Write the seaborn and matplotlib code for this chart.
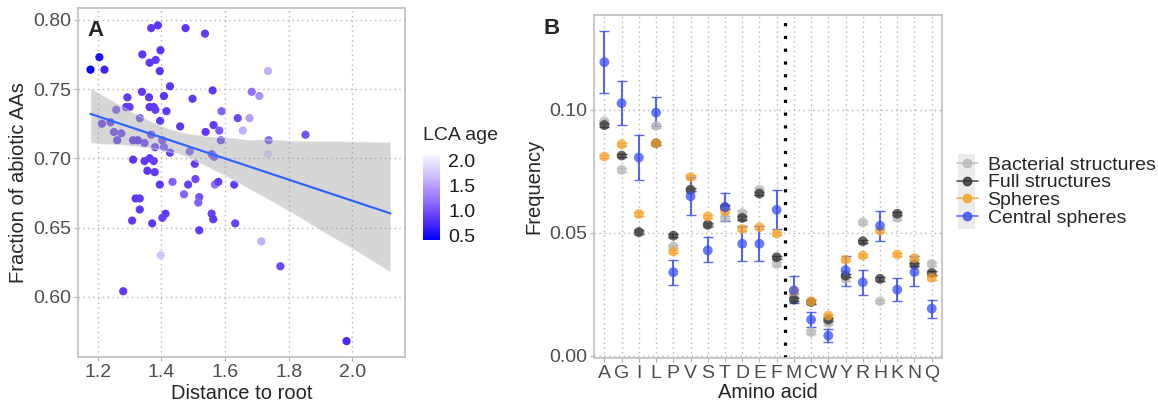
import numpy as np
import pandas as pd
import seaborn as sns
import matplotlib.pyplot as plt
from matplotlib.colors import LinearSegmentedColormap, Normalize
from matplotlib.cm import ScalarMappable
from matplotlib.lines import Line2D
from matplotlib.patches import Rectangle

# Panel A: distance to root vs fraction of abiotic AAs, colour = LCA age
distancia = [1.177, 1.205, 1.221, 1.368, 1.389, 1.476, 1.537, 1.340, 1.397, 1.363,
             1.382, 1.395, 1.735, 1.427, 1.339, 1.561, 1.293, 1.361, 1.408, 1.498,
             1.684, 1.708, 1.289, 1.300, 1.363, 1.376, 1.381, 1.416, 1.258, 1.589,
             1.332, 1.396, 1.213, 1.240, 1.459, 1.564, 1.640, 1.677, 1.656, 1.582,
             1.539, 1.251, 1.274, 1.261, 1.311, 1.326, 1.347, 1.368, 1.403, 1.408,
             1.380, 1.427, 1.587, 1.737, 1.853, 1.735, 1.489, 1.558, 1.566, 1.311,
             1.347, 1.363, 1.376, 1.505, 1.356, 1.379, 1.395, 1.435, 1.484, 1.507,
             1.568, 1.579, 1.629, 1.471, 1.519, 1.516, 1.319, 1.332, 1.332, 1.558,
             1.563, 1.413, 1.403, 1.308, 1.371, 1.632, 1.519, 1.714, 1.398, 1.774,
             1.280, 1.982]
fraccion = [0.764, 0.773, 0.764, 0.794, 0.796, 0.794, 0.790, 0.775, 0.778, 0.769,
            0.771, 0.763, 0.763, 0.752, 0.748, 0.749, 0.744, 0.744, 0.745, 0.743,
            0.748, 0.745, 0.737, 0.737, 0.737, 0.737, 0.735, 0.734, 0.735, 0.734,
            0.729, 0.727, 0.725, 0.726, 0.723, 0.724, 0.729, 0.729, 0.720, 0.720,
            0.719, 0.719, 0.718, 0.713, 0.713, 0.713, 0.711, 0.717, 0.713, 0.708,
            0.708, 0.704, 0.713, 0.713, 0.717, 0.703, 0.705, 0.703, 0.701, 0.699,
            0.698, 0.700, 0.698, 0.696, 0.691, 0.690, 0.681, 0.683, 0.681, 0.685,
            0.681, 0.683, 0.681, 0.674, 0.672, 0.668, 0.671, 0.671, 0.663, 0.660,
            0.656, 0.660, 0.657, 0.655, 0.653, 0.653, 0.648, 0.640, 0.630, 0.622,
            0.604, 0.568]
edad_lca = [0.42, 0.55, 0.70, 0.85, 0.83, 0.85, 0.87, 0.85, 0.83, 0.85,
            0.87, 0.83, 1.60, 0.85, 0.87, 0.85, 0.87, 0.85, 0.83, 0.87,
            1.20, 1.40, 0.85, 0.87, 0.85, 0.85, 0.90, 0.85, 1.10, 1.10,
            1.05, 0.87, 0.95, 1.00, 0.85, 0.87, 0.95, 1.50, 1.60, 1.05,
            0.85, 1.00, 1.00, 0.95, 0.87, 0.85, 1.00, 1.00, 1.05, 1.10,
            1.00, 0.90, 1.00, 1.10, 1.00, 1.85, 1.15, 1.05, 1.10, 0.85,
            0.87, 0.85, 0.90, 0.87, 0.85, 0.87, 0.85, 1.10, 0.90, 0.95,
            1.20, 0.90, 0.87, 1.10, 1.00, 1.10, 0.85, 0.87, 0.85, 0.90,
            0.85, 0.87, 0.90, 0.85, 0.85, 0.90, 0.85, 1.60, 1.75, 0.95,
            0.85, 0.75]

# Panel B: amino acid frequencies
aminoacidos = ['A', 'G', 'I', 'L', 'P', 'V', 'S', 'T', 'D', 'E',
               'F', 'M', 'C', 'W', 'Y', 'R', 'H', 'K', 'N', 'Q']
bacterianas = [0.0953, 0.0756, 0.0500, 0.0935, 0.0444, 0.0672, 0.0530, 0.0560, 0.0580, 0.0675,
               0.0373, 0.0245, 0.0095, 0.0133, 0.0312, 0.0542, 0.0221, 0.0560, 0.0385, 0.0373]
completas = [0.0938, 0.0814, 0.0503, 0.0864, 0.0488, 0.0675, 0.0533, 0.0604, 0.0560, 0.0659,
             0.0400, 0.0228, 0.0218, 0.0146, 0.0325, 0.0465, 0.0312, 0.0577, 0.0370, 0.0336]
esferas = [0.0810, 0.0860, 0.0576, 0.0864, 0.0424, 0.0726, 0.0566, 0.0587, 0.0515, 0.0522,
           0.0496, 0.0262, 0.0221, 0.0163, 0.0390, 0.0407, 0.0508, 0.0411, 0.0397, 0.0316]
centrales = [0.1194, 0.1027, 0.0806, 0.0989, 0.0339, 0.0648, 0.0428, 0.0604, 0.0455, 0.0455,
             0.0593, 0.0265, 0.0146, 0.0081, 0.0347, 0.0298, 0.0528, 0.0268, 0.0340, 0.0191]
centrales_inf = [0.1068, 0.0939, 0.0713, 0.0935, 0.0289, 0.0573, 0.0381, 0.0546, 0.0383, 0.0383,
                 0.0515, 0.0214, 0.0117, 0.0054, 0.0285, 0.0248, 0.0465, 0.0221, 0.0285, 0.0153]
centrales_sup = [0.1320, 0.1118, 0.0898, 0.1051, 0.0390, 0.0725, 0.0481, 0.0661, 0.0528, 0.0528,
                 0.0675, 0.0322, 0.0176, 0.0110, 0.0404, 0.0350, 0.0589, 0.0316, 0.0404, 0.0228]
error_pequeno = [0.0007] * 20

sns.set_style('white')
plt.rcParams['font.family'] = ['Liberation Sans', 'DejaVu Sans']

gris_txt = '#4D4D4D'
borde = '#C4C4C4'
rejilla = '#B5B5B5'

fig = plt.figure(figsize=(11.58, 4.03), dpi=100)
ax_a = fig.add_axes([0.0674, 0.1141, 0.2824, 0.866])
ax_cb = fig.add_axes([0.3653, 0.4045, 0.0147, 0.211])
ax_b = fig.add_axes([0.5130, 0.1117, 0.3005, 0.851])

# ---- Panel A ----
cmap = LinearSegmentedColormap.from_list(
    'lca', ['#0000FF', '#5E36FA', '#9A7DFF', '#CBBBFF', '#FAF8FF'])
norm = Normalize(0.41, 2.12)
df_a = pd.DataFrame({'dist': distancia, 'frac': fraccion, 'edad': edad_lca})

ax_a.grid(True, color=rejilla, linestyle=(0, (1, 2.5)), linewidth=1.0)
ax_a.set_axisbelow(True)
sns.scatterplot(data=df_a, x='dist', y='frac', hue='edad', palette=cmap, hue_norm=norm,
                s=35, linewidth=0, legend=False, ax=ax_a, zorder=3)
# smooth spans the fitted x range, as in the original
ax_a.set_xlim(1.177, 2.12)
sns.regplot(data=df_a, x='dist', y='frac', scatter=False, truncate=False, color='#999999',
            line_kws={'linewidth': 1.6}, seed=0, ax=ax_a)
ax_a.lines[-1].set_color('#3366FF')
ax_a.lines[-1].set_zorder(5)
for col in ax_a.collections[1:]:
    col.set_alpha(0.4)
    col.set_zorder(4)
ax_a.set_xlim(1.138, 2.166)
ax_a.set_ylim(0.5565, 0.8085)
ax_a.set_xticks([1.2, 1.4, 1.6, 1.8, 2.0])
ax_a.set_yticks([0.60, 0.65, 0.70, 0.75, 0.80])
ax_a.set_yticklabels(['0.60', '0.65', '0.70', '0.75', '0.80'])
ax_a.set_xlabel('Distance to root', fontsize=14.5, labelpad=2)
ax_a.set_ylabel('Fraction of abiotic AAs', fontsize=14.5, labelpad=4)
ax_a.text(0.03, 0.965, 'A', transform=ax_a.transAxes, fontsize=16, fontweight='bold',
          va='top', ha='left')

# colorbar
cb = fig.colorbar(ScalarMappable(norm=norm, cmap=cmap), cax=ax_cb)
cb.outline.set_visible(False)
cb.set_ticks([0.5, 1.0, 1.5, 2.0])
cb.set_ticklabels(['0.5', '1.0', '1.5', '2.0'])
ax_cb.tick_params(axis='y', direction='in', length=3, color='white', width=0.8,
                  labelsize=14, pad=6, left=True, right=True, labelcolor='#1A1A1A')
fig.text(0.3653, 0.642, 'LCA age', fontsize=14, va='bottom', ha='left')

# ---- Panel B ----
filas = []
for serie, valores in [('Bacterial structures', bacterianas), ('Full structures', completas),
                       ('Spheres', esferas), ('Central spheres', centrales)]:
    for aa, v in zip(aminoacidos, valores):
        filas.append({'aa': aa, 'freq': v, 'serie': serie})
df_b = pd.DataFrame(filas)
colores = {'Bacterial structures': '#B8B8B8', 'Full structures': '#303030',
           'Spheres': '#F5A32A', 'Central spheres': '#3A4FF2'}

ax_b.grid(True, color=rejilla, linestyle=(0, (1, 2.5)), linewidth=1.0)
ax_b.set_axisbelow(True)
pos = np.arange(len(aminoacidos))
for serie, valores in [('Bacterial structures', bacterianas), ('Full structures', completas),
                       ('Spheres', esferas)]:
    ax_b.errorbar(pos, valores, yerr=error_pequeno, fmt='none', ecolor=colores[serie],
                  elinewidth=1.2, capsize=3.5, alpha=0.8, zorder=3)
err_inf = np.array(centrales) - np.array(centrales_inf)
err_sup = np.array(centrales_sup) - np.array(centrales)
ax_b.errorbar(pos, centrales, yerr=[err_inf, err_sup], fmt='none', ecolor=colores['Central spheres'],
              elinewidth=1.5, capsize=3.5, alpha=0.85, zorder=4)
sns.scatterplot(data=df_b, x='aa', y='freq', hue='serie', palette=colores, s=50,
                linewidth=0, alpha=0.75, legend=False, ax=ax_b, zorder=5)
ax_b.axvline(10.5, color='black', linestyle=(0, (1, 3)), linewidth=2.3, zorder=2)
ax_b.set_xlim(-0.6, 19.6)
ax_b.set_ylim(-0.001, 0.1386)
ax_b.set_yticks([0.00, 0.05, 0.10])
ax_b.set_yticklabels(['0.00', '0.05', '0.10'])
ax_b.set_xlabel('Amino acid', fontsize=14.5, labelpad=1)
ax_b.set_ylabel('Frequency', fontsize=14.5, labelpad=4)
fig.text(0.469, 0.955, 'B', fontsize=16, fontweight='bold', va='top', ha='left')

for ax in (ax_a, ax_b):
    for s in ax.spines.values():
        s.set_color(borde)
        s.set_linewidth(1.3)
    ax.tick_params(axis='both', labelsize=14, labelcolor=gris_txt, color='#B3B3B3',
                   length=3, width=0.8, pad=2, bottom=True, left=True)

# legend of panel B
fig.patches.append(Rectangle((958 / 1158, (403 - 229) / 403), 17 / 1158, 75 / 403,
                             transform=fig.transFigure, facecolor='#EBEBEB',
                             edgecolor='none', zorder=0))
manejadores = [Line2D([], [], color=colores[k], marker='o', markersize=6, linewidth=1.2,
                      alpha=0.8, label=k) for k in colores]
fig.legend(handles=manejadores, loc='center left', bbox_to_anchor=(0.826, 0.525),
           frameon=False, fontsize=14, labelspacing=0.0, handlelength=1.1,
           handletextpad=0.5, borderpad=0, borderaxespad=0)

fig.savefig('out.png', dpi=100)
